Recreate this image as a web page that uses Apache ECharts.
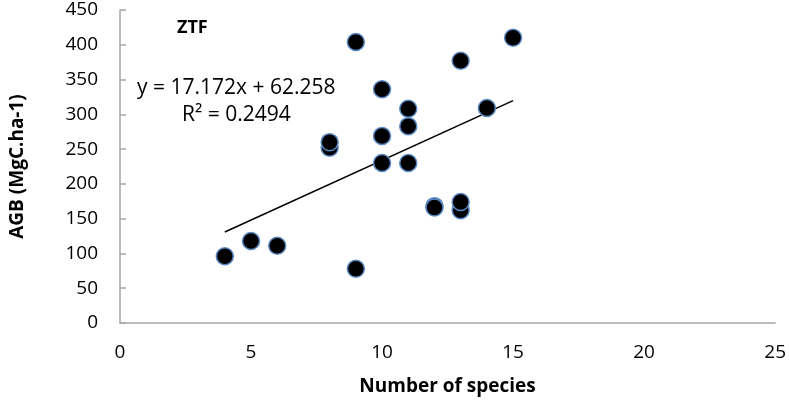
<!DOCTYPE html>
<html><head><meta charset="utf-8">
<script src="https://cdn.jsdelivr.net/npm/echarts@6/dist/echarts.min.js"></script>
<style>html,body{margin:0;padding:0;background:#fff}#c{width:789px;height:401px}</style>
</head><body><div id="c"></div>
<script>
const speciesCount = [4, 5, 6, 8, 8, 9, 9, 10, 10, 10, 11, 11, 11, 12, 12, 13, 13, 13, 14, 15];
const agbValues    = [96, 118, 111, 252, 260, 404, 78, 336, 269, 230, 308, 283, 230, 168, 166, 377, 162, 174, 309, 410];
const trendX = [4, 15];
const trendY = [130.9, 319.8];
const equationText = 'y = 17.172x + 62.258';
const r2Text = 'R² = 0.2494';
const titleText = 'ZTF';
const xTicks = [0, 5, 10, 15, 20, 25];
const yTicks = [0, 50, 100, 150, 200, 250, 300, 350, 400, 450];

const pts = speciesCount.map((x, i) => [x, agbValues[i]]);
const trend = trendX.map((x, i) => [x, trendY[i]]);
const font = 'Open Sans';
const chart = echarts.init(document.getElementById('c'));
chart.setOption({
  animation: false,
  textStyle: {fontFamily: font},
  grid: {left: 119, top: 10, right: 12, bottom: 78},
  xAxis: {
    type: 'value', min: xTicks[0], max: xTicks[xTicks.length-1], interval: 5,
    name: 'Number of species', nameLocation: 'middle', nameGap: 54,
    nameTextStyle: {fontFamily: font, fontWeight: 'bold', fontSize: 19, color: '#000'},
    axisLine: {show: true, lineStyle: {color: '#a6a6a6', width: 1.5}},
    axisTick: {show: false},
    axisLabel: {fontSize: 19, color: '#000', margin: 20, fontFamily: font},
    splitLine: {show: false}
  },
  yAxis: {
    type: 'value', min: yTicks[0], max: yTicks[yTicks.length-1], interval: 50,
    name: 'AGB (MgC.ha-1)', nameLocation: 'middle', nameGap: 93,
    nameTextStyle: {fontFamily: font, fontWeight: 'bold', fontSize: 19, color: '#000'},
    axisLine: {show: true, lineStyle: {color: '#a6a6a6', width: 1.5}},
    axisTick: {show: true, inside: true, length: 6, lineStyle: {color: '#a6a6a6', width: 1.5}},
    axisLabel: {fontSize: 19, color: '#000', margin: 22, fontFamily: font},
    splitLine: {show: false}
  },
  series: [
    {
      type: 'line', data: trend, symbol: 'none', silent: true,
      lineStyle: {color: '#000', width: 1.5}, z: 1
    },
    {
      type: 'scatter', data: pts, symbol: 'circle', symbolSize: 17,
      itemStyle: {color: '#000', borderColor: '#5a8ac6', borderWidth: 1.5, opacity: 1}, z: 2
    }
  ],
  graphic: [
    {type: 'text', left: 177, top: 19, style: {text: titleText, font: 'bold 18px "Open Sans"', fill: '#000'}},
    {type: 'text', left: 137, top: 78, style: {text: equationText, font: '21px "Open Sans"', fill: '#000'}},
    {type: 'text', left: 182, top: 105, style: {text: r2Text, font: '21px "Open Sans"', fill: '#000'}}
  ]
});
</script></body></html>
